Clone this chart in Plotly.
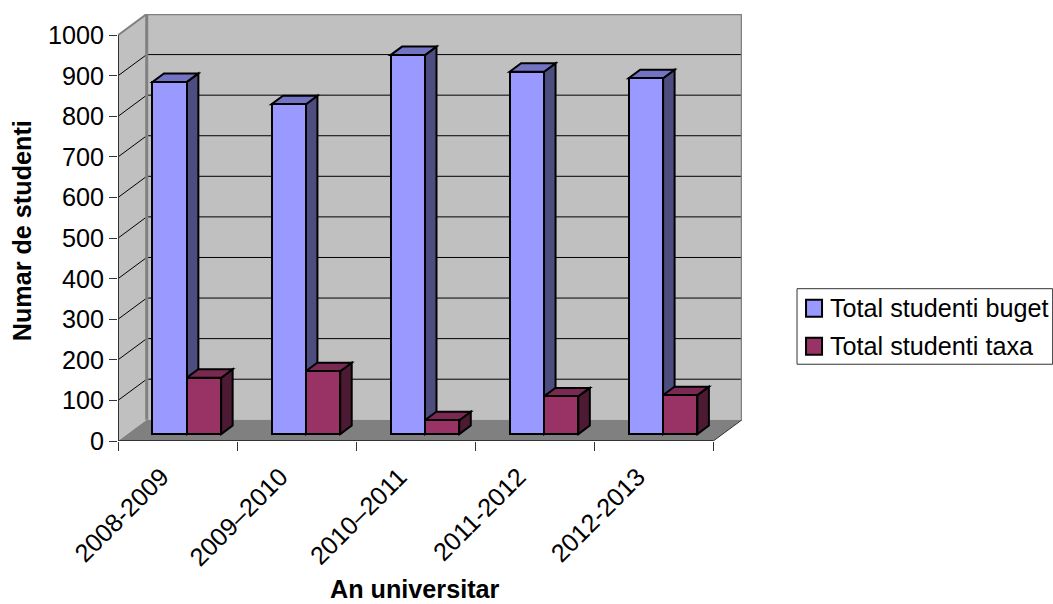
import plotly.graph_objects as go

# ---- data
categories = ["2008-2009", "2009–2010", "2010–2011", "2011-2012", "2012-2013"]
buget = [868, 813, 934, 893, 877]
taxa = [139, 155, 34, 93, 96]
series_names = ["Total studenti buget", "Total studenti taxa"]
y_ticks = list(range(0, 1001, 100))

# ---- pixel frame of the page and the oblique projection
W, H = 1053, 604
PX_L, PX_R, PX_T, PX_B = 118.3, 742.0, 14.0, 440.7
CAT_PX = 119.0
VAL_PX = 0.4055
DX = (PX_R - PX_L) / CAT_PX - 5      # wall depth in category units
DY = (PX_B - PX_T) / VAL_PX - 1000   # wall depth in value units
BAR_D0 = 0.325                        # bar front plane, share of depth
BAR_D = 0.40                          # bar depth, share of depth
BAR_W = 0.289
OFFS = [0.434, 0.722]
LABEL_POS = 0.365
n = len(categories)

FONT = "Liberation Sans, Arial, sans-serif"
FS = 25.2
WALL, FLOOR, EDGE = "#c0c0c0", "#808080", "#808080"
STYLES = [
    dict(front="#9999ff", side="#4d4d80", top="#7373c4"),
    dict(front="#993366", side="#4d1a33", top="#7a2952"),
]
OUT = 2


def poly(pts, fill, line="rgba(0,0,0,0)", lw=0):
    d = "M" + " L".join(f"{x:.4f},{y:.3f}" for x, y in pts) + " Z"
    return dict(type="path", path=d, xref="x", yref="y", layer="below",
                fillcolor=fill, line=dict(color=line, width=lw))


def seg(p, q, color="#000000", lw=1.0):
    return dict(type="line", x0=p[0], y0=p[1], x1=q[0], y1=q[1], xref="x", yref="y",
                layer="below", line=dict(color=color, width=lw))


shapes = [
    poly([(DX, DY), (n + DX, DY), (n + DX, 1000 + DY), (DX, 1000 + DY)], WALL),
    poly([(0, 0), (DX, DY), (DX, 1000 + DY), (0, 1000)], WALL),
    poly([(0, 0), (n, 0), (n + DX, DY), (DX, DY)], FLOOR),
]
for v in y_ticks[1:-1]:
    shapes.append(seg((DX, v + DY), (n + DX, v + DY)))
    shapes.append(seg((0, v), (DX, v + DY)))
shapes.append(seg((DX, DY), (DX, 1000 + DY), EDGE, 3))
shapes.append(seg((0, 1000), (DX, 1000 + DY), EDGE, 2))
shapes.append(seg((n, 0), (n + DX, DY), "#333333", 1))

# depth faces, built from the values
base = BAR_D0 * DY
ddx, ddy = BAR_D * DX, BAR_D * DY
for s, vals in enumerate([buget, taxa]):
    st = STYLES[s]
    for i, v in enumerate(vals):
        xl = i + OFFS[s] - BAR_W / 2
        xr = xl + BAR_W
        t = base + v
        shapes.append(poly([(xr, base), (xr + ddx, base + ddy), (xr + ddx, t + ddy), (xr, t)],
                           st["side"], "#000000", OUT))
        shapes.append(poly([(xl, t), (xr, t), (xr + ddx, t + ddy), (xl + ddx, t + ddy)],
                           st["top"], "#000000", OUT))

fig = go.Figure()
for s, (name, vals) in enumerate(zip(series_names, [buget, taxa])):
    fig.add_trace(go.Bar(
        name=name,
        x=[i + OFFS[s] for i in range(n)],
        y=vals,
        base=[base] * n,
        width=BAR_W,
        marker=dict(color=STYLES[s]["front"], line=dict(color="#000000", width=OUT)),
        showlegend=False,
        hovertext=categories,
    ))

# outer edges that sit on the plot border
edges = [
    ([0, 0], [0, 1000], "#333333", 2),
    ([0, n], [0, 0], "#333333", 2),
    ([DX, n + DX, n + DX], [1000 + DY, 1000 + DY, DY], EDGE, 2.5),
]
for xs, ys, c, lw in edges:
    fig.add_trace(go.Scatter(x=xs, y=ys, mode="lines", line=dict(color=c, width=lw),
                             cliponaxis=False, showlegend=False, hoverinfo="skip"))


def px(x):
    return (x - PX_L) / (PX_R - PX_L)


def py(y):
    return (PX_B - y) / (PX_B - PX_T)


# legend box drawn to the reference's proportions
shapes.append(dict(type="rect", xref="paper", yref="paper", x0=px(797), x1=px(1052.5),
                   y0=py(364), y1=py(288.5), line=dict(color="#333333", width=1),
                   fillcolor="#ffffff", layer="below"))
annotations = []
for s, (name, yc) in enumerate(zip(series_names, [308, 346])):
    shapes.append(dict(type="rect", xref="paper", yref="paper", x0=px(806), x1=px(822),
                       y0=py(yc + 8.5), y1=py(yc - 8.5),
                       line=dict(color="#000000", width=OUT),
                       fillcolor=STYLES[s]["front"]))
    annotations.append(dict(text=name, xref="paper", yref="paper", x=px(828), y=py(yc),
                            xanchor="left", yanchor="middle", showarrow=False,
                            font=dict(family=FONT, size=FS, color="#000000")))
annotations.append(dict(text="<b>An universitar</b>", xref="paper", yref="paper", x=px(415), y=py(589),
                        xanchor="center", yanchor="middle", showarrow=False,
                        font=dict(family=FONT, size=FS, color="#000000")))
annotations.append(dict(text="<b>Numar de studenti</b>", xref="paper", yref="paper", x=px(22), y=py(230.5),
                        xanchor="center", yanchor="middle", textangle=-90, showarrow=False,
                        font=dict(family=FONT, size=FS, color="#000000")))

fig.update_layout(
    width=W, height=H,
    margin=dict(l=PX_L, r=W - PX_R, t=PX_T, b=H - PX_B, pad=0, autoexpand=False),
    paper_bgcolor="#ffffff", plot_bgcolor="#ffffff",
    barmode="overlay", bargap=0,
    shapes=shapes, annotations=annotations, showlegend=False,
    font=dict(family=FONT, size=FS, color="#000000"),
    xaxis=dict(range=[0, n + DX], showgrid=False, zeroline=False, showline=False,
               tickmode="array", tickvals=[i + LABEL_POS for i in range(n)], ticktext=categories,
               tickangle=-45, ticks="outside", ticklen=10, tickcolor="rgba(0,0,0,0)",
               tickfont=dict(family=FONT, size=FS, color="#000000"),
               minor=dict(tickmode="array", tickvals=list(range(n + 1)), ticks="outside",
                          ticklen=9, tickwidth=1, tickcolor="#333333", showgrid=False)),
    yaxis=dict(range=[0, 1000 + DY], showgrid=False, zeroline=False, showline=False,
               tickmode="array", tickvals=y_ticks, ticks="outside", ticklen=8, tickwidth=1,
               tickcolor="#333333", tickfont=dict(family=FONT, size=FS, color="#000000")),
)

fig.write_html("out.html", config=dict(displayModeBar=False),
               post_script="document.body.style.margin='0';document.body.style.overflow='hidden';")
